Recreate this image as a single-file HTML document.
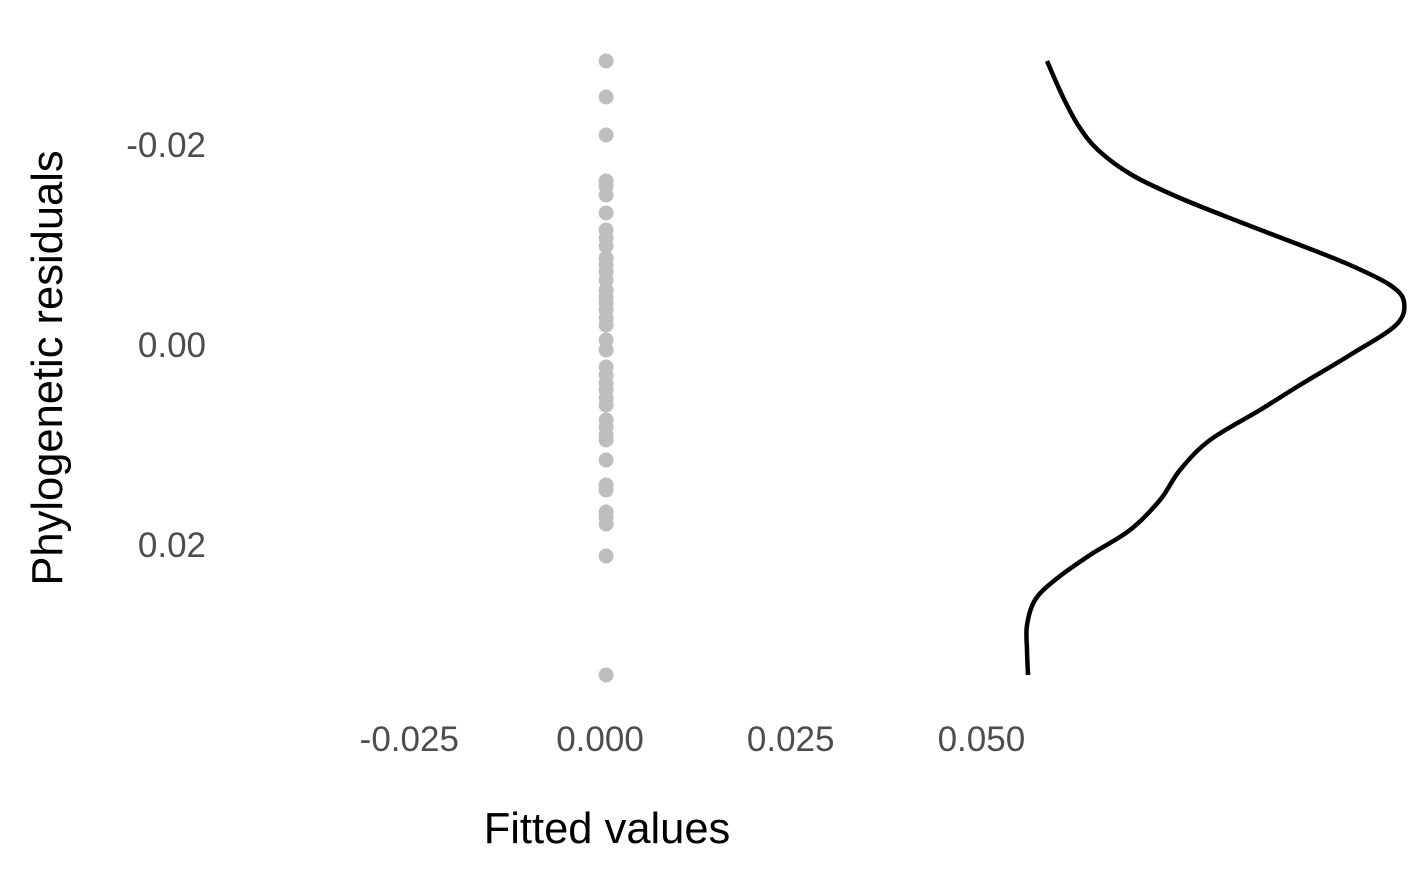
<!DOCTYPE html>
<html><head><meta charset="utf-8"><style>
body{margin:0;background:#fff;}
svg{display:block;font-family:"Liberation Sans",sans-serif;}
</style></head><body>
<svg id="chart" width="1425" height="883">
<g id="axes"></g>
<g id="points"></g>
<path id="density" fill="none" stroke="#000" stroke-width="4.5"></path>
<text x="607" y="843" text-anchor="middle" font-size="43.5" fill="#000">Fitted values</text>
<text transform="translate(62,368) rotate(-90)" text-anchor="middle" font-size="43.5" fill="#000">Phylogenetic residuals</text>
</svg>
<script>
const fittedValues = [0.0008,0.0008,0.0008,0.0008,0.0008,0.0008,0.0008,0.0008,0.0008,0.0008,0.0008,0.0008,0.0008,0.0008,0.0008,0.0008,0.0008,0.0008,0.0008,0.0008,0.0008,0.0008,0.0008,0.0008,0.0008,0.0008,0.0008,0.0008,0.0008,0.0008,0.0008,0.0008,0.0008,0.0008,0.0008,0.0008,0.0008,0.0008,0.0008,0.0008];
const residuals = [-0.0284,-0.0248,-0.0210,-0.0164,-0.0159,-0.0150,-0.0132,-0.0115,-0.0107,-0.0099,-0.0087,-0.0080,-0.0073,-0.0065,-0.0055,-0.0048,-0.0042,-0.0035,-0.0027,-0.0020,-0.0005,0.0005,0.0022,0.0030,0.0038,0.0045,0.0053,0.0060,0.0075,0.0082,0.0090,0.0095,0.0115,0.0140,0.0145,0.0167,0.0172,0.0179,0.0211,0.0330];
const densityY = [-0.0284,-0.0250,-0.0220,-0.0195,-0.0170,-0.0147,-0.0123,-0.0100,-0.0080,-0.0060,-0.0043,-0.0020,0.0010,0.0040,0.0065,0.0095,0.0125,0.0155,0.0185,0.0210,0.0235,0.0255,0.0280,0.0305,0.0330];
const densityVal = [11.75,15.5,19.5,24.5,33,45,60,75,87.5,97.5,101,99,87.5,75,65,52.5,45,40,32.5,22.5,13.75,8.75,6.75,6.75,7];
const xTicks = [-0.025,0,0.025,0.05];
const xTickLabels = ["-0.025","0.000","0.025","0.050"];
const yTicks = [-0.02,0,0.02];
const yTickLabels = ["-0.02","0.00","0.02"];

const xs = v => 600 + v*(190.7/0.025);
const ys = v => 345 + v*10000;
const ds = d => 1028 + (d-7)*4;
const NS="http://www.w3.org/2000/svg";
const axes=document.getElementById('axes');
xTicks.forEach((t,i)=>{const e=document.createElementNS(NS,'text');
e.setAttribute('x',xs(t));e.setAttribute('y',751);e.setAttribute('text-anchor','middle');
e.setAttribute('font-size','35');e.setAttribute('fill','#4d4d4d');e.textContent=xTickLabels[i];


axes.appendChild(e);});
yTicks.forEach((t,i)=>{const e=document.createElementNS(NS,'text');
e.setAttribute('x',206);e.setAttribute('y',ys(t)+12);e.setAttribute('text-anchor','end');
e.setAttribute('font-size','35');e.setAttribute('fill','#4d4d4d');e.textContent=yTickLabels[i];


axes.appendChild(e);});
const pg=document.getElementById('points');
residuals.forEach((r,i)=>{const c=document.createElementNS(NS,'circle');
c.setAttribute('cx',xs(fittedValues[i]));c.setAttribute('cy',ys(r));c.setAttribute('r',7.5);
c.setAttribute('fill','#bebebe');


pg.appendChild(c);});
const pts=densityY.map((y,i)=>[ds(densityVal[i]),ys(y)]);
let d='M'+pts[0][0]+','+pts[0][1];
for(let i=0;i<pts.length-1;i++){const p0=pts[i-1]||pts[i],p1=pts[i],p2=pts[i+1],p3=pts[i+2]||p2;
d+=' C'+(p1[0]+(p2[0]-p0[0])/6)+','+(p1[1]+(p2[1]-p0[1])/6)+' '+(p2[0]-(p3[0]-p1[0])/6)+','+(p2[1]-(p3[1]-p1[1])/6)+' '+p2[0]+','+p2[1];}
document.getElementById('density').setAttribute('d',d);
</script>
</body></html>
